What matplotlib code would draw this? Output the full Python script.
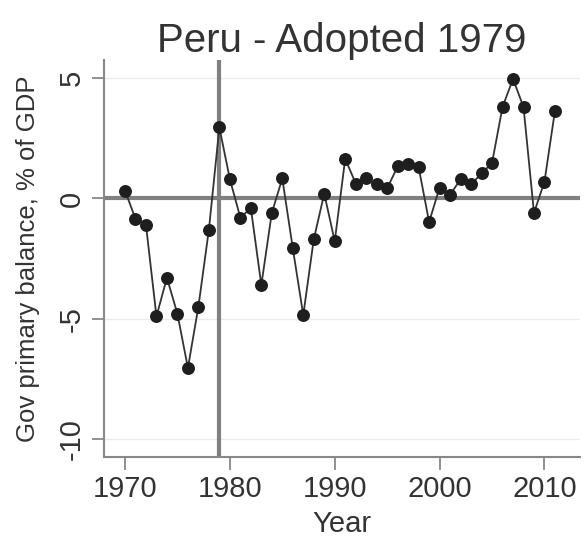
import matplotlib
matplotlib.use("Agg")
import matplotlib.pyplot as plt

# Данные: первичный баланс правительства Перу, % ВВП
years = list(range(1970, 2012))
balance = [0.33, -0.85, -1.1, -4.9, -3.3, -4.8, -7.05, -4.5, -1.3, 2.95,
           0.8, -0.8, -0.4, -3.6, -0.6, 0.83, -2.07, -4.85, -1.7, 0.2,
           -1.78, 1.65, 0.62, 0.83, 0.6, 0.42, 1.33, 1.44, 1.3, -0.98,
           0.45, 0.15, 0.8, 0.58, 1.04, 1.48, 3.8, 4.97, 3.8, -0.6,
           0.7, 3.65]
adopted_year = 1979
x_ticks = [1970, 1980, 1990, 2000, 2010]
y_ticks = [-10, -5, 0, 5]

plt.rcParams['font.family'] = ['Liberation Sans', 'DejaVu Sans']

fig = plt.figure(figsize=(5.86, 5.37), dpi=100)
ax = fig.add_axes([0.1775, 0.149, 0.8125, 0.739])

# Сетка и опорные линии
for v in y_ticks:
    ax.axhline(v, color='#ebebeb', linewidth=1, zorder=0)
ax.axhline(0, color='#808080', linewidth=3, zorder=1)
ax.axvline(adopted_year, color='#808080', linewidth=3, zorder=1)

ax.plot(years, balance, color='#333333', linewidth=1.3, marker='o',
        markersize=8.3, markerfacecolor='#1e1e1e', markeredgecolor='#1e1e1e', zorder=3)

ax.set_xlim(1968.0, 2013.4)
ax.set_ylim(-10.75, 5.75)
ax.set_xticks(x_ticks)
ax.set_yticks(y_ticks)
ax.set_yticklabels([str(v) for v in y_ticks], rotation=90, va='center')

for s in ['top', 'right']:
    ax.spines[s].set_visible(False)
for s in ['left', 'bottom']:
    ax.spines[s].set_color('#888888')
    ax.spines[s].set_linewidth(1.5)
ax.tick_params(axis='both', colors='#888888', length=9, width=1.3,
               labelsize=21, labelcolor='#333333', pad=4)

ax.set_title("Peru - Adopted 1979", fontsize=29, color='#333333', pad=6)
ax.set_xlabel("Year", fontsize=21, color='#333333', labelpad=5)
ax.set_ylabel("Gov primary balance, % of GDP", fontsize=18.5, color='#333333', labelpad=13)

fig.savefig("out.png", dpi=100, facecolor='white')
